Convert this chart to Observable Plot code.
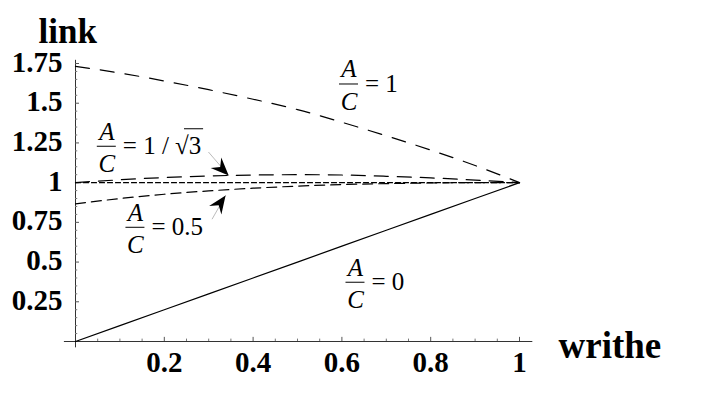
<!DOCTYPE html>
<html><head><meta charset="utf-8">
<script src="https://cdn.jsdelivr.net/npm/d3@7"></script>
<script src="https://cdn.jsdelivr.net/npm/@observablehq/plot@0.6"></script>
<style>body{margin:0;background:#fff}</style>
</head><body><div id="chart"></div>
<script>
// ---- data ----
const writhe        = [0, 0.1, 0.2, 0.3, 0.4, 0.5, 0.6, 0.7, 0.8, 0.9, 1];
const linkAC1       = [1.732, 1.69, 1.64, 1.585, 1.525, 1.46, 1.38, 1.295, 1.205, 1.108, 1.0];
const linkACinvRt3  = [1.0, 1.018, 1.032, 1.042, 1.048, 1.05, 1.048, 1.04, 1.03, 1.016, 1.0];
const linkAC05      = [0.866, 0.9, 0.927, 0.948, 0.965, 0.978, 0.988, 0.994, 0.998, 1.0, 1.0];
const linkAC0       = [0, 0.1, 0.2, 0.3, 0.4, 0.5, 0.6, 0.7, 0.8, 0.9, 1.0];
const linkRef       = [1, 1, 1, 1, 1, 1, 1, 1, 1, 1, 1];

const xMajor     = [0.2, 0.4, 0.6, 0.8, 1];
const xMajorText = ["0.2", "0.4", "0.6", "0.8", "1"];
const xMinor     = [0.05,0.1,0.15,0.25,0.3,0.35,0.45,0.5,0.55,0.65,0.7,0.75,0.85,0.9,0.95];
const yMajor     = [0.25, 0.5, 0.75, 1, 1.25, 1.5, 1.75];
const yMajorText = ["0.25", "0.5", "0.75", "1", "1.25", "1.5", "1.75"];
const yMinor     = [0.05,0.1,0.15,0.2,0.3,0.35,0.4,0.45,0.55,0.6,0.65,0.7,0.8,0.85,0.9,0.95,
                    1.05,1.1,1.15,1.2,1.3,1.35,1.4,1.45,1.55,1.6,1.65,1.7];

// curve labels (anchor = centre of the fraction bar, in data units)
const labelX   = [0.616, 0.0705, 0.135, 0.6306];
const labelY   = [1.621, 1.229, 0.719, 0.373];
const labelRhs = ["= 1", "= 1 / \u221A3", "= 0.5", "= 0"];

// arrows (data units) and their head angles
const arrowX1 = [0.300, 0.308];
const arrowY1 = [1.191, 0.772];
const arrowX2 = [0.345, 0.338];
const arrowY2 = [1.045, 0.919];
const arrowAngle = [45, -55];

// ---- build tables ----
const series = ys => writhe.map((w, i) => ({w, l: ys[i]}));
const labels = labelX.map((x, i) => ({x, y: labelY[i], rhs: labelRhs[i]}));
const arrows = arrowX1.map((x1, i) => ({x1, y1: arrowY1[i], x2: arrowX2[i], y2: arrowY2[i], a: arrowAngle[i]}));

const serif = "'Liberation Serif','Times New Roman',Times,serif";
const head = {draw(ctx) { ctx.moveTo(0,0); ctx.lineTo(-18,-7.5); ctx.lineTo(-12,0); ctx.lineTo(-18,7.5); ctx.closePath(); }};

const chart = Plot.plot({
  width: 706, height: 415,
  marginLeft: 75, marginRight: 187, marginTop: 63, marginBottom: 74,
  x: {domain: [0, 1], axis: null},
  y: {domain: [0, 1.75], axis: null},
  style: {fontFamily: serif, background: "white", color: "black"},
  marks: [
    // axes
    Plot.ruleY([0], {x1: -0.025, x2: 1.03, stroke: "#333", strokeWidth: 1}),
    Plot.ruleX([0], {y1: -0.04, y2: 1.77, stroke: "#333", strokeWidth: 1}),
    Plot.ruleX(xMajor, {x: d => d, y1: 0, y2: 0.026, stroke: "#555"}),
    Plot.ruleX(xMinor, {x: d => d, y1: 0, y2: 0.015, stroke: "#777"}),
    Plot.ruleY(yMajor, {y: d => d, x1: 0, x2: 0.009, stroke: "#555"}),
    Plot.ruleY(yMinor, {y: d => d, x1: 0, x2: 0.005, stroke: "#777"}),
    Plot.text(xMajor, {x: d => d, y: 0, text: (d, i) => xMajorText[i], dy: 30, lineAnchor: "bottom",
      textAnchor: "middle", fontSize: 29, fontWeight: "bold"}),
    Plot.text(yMajor, {x: 0, y: d => d, text: (d, i) => yMajorText[i], dx: -13, dy: 8, lineAnchor: "bottom",
      textAnchor: "end", fontSize: 29, fontWeight: "bold"}),
    Plot.text([{x: 0, y: 1.75, t: "link"}], {x: "x", y: "y", text: "t", dx: -37, dy: -21, lineAnchor: "bottom",
      textAnchor: "start", fontSize: 35, fontWeight: "bold"}),
    Plot.text([{x: 1, y: 0, t: "writhe"}], {x: "x", y: "y", text: "t", dx: 39, dy: 16, lineAnchor: "bottom",
      textAnchor: "start", fontSize: 37, fontWeight: "bold"}),
    // curves
    Plot.line(series(linkAC0), {x: "w", y: "l", stroke: "black", strokeWidth: 1.2}),
    Plot.line(series(linkRef), {x: "w", y: "l", stroke: "black", strokeWidth: 1.2, strokeDasharray: "5,3"}),
    Plot.line(series(linkAC05), {x: "w", y: "l", curve: "natural", stroke: "black", strokeWidth: 1.2, strokeDasharray: "10,6"}),
    Plot.line(series(linkACinvRt3), {x: "w", y: "l", curve: "natural", stroke: "black", strokeWidth: 1.2, strokeDasharray: "14,9"}),
    Plot.line(series(linkAC1), {x: "w", y: "l", curve: "natural", stroke: "black", strokeWidth: 1.2, strokeDasharray: "14,11"}),
    // labels
    Plot.text(labels, {x: "x", y: "y", text: () => "A", fontStyle: "italic", fontSize: 25, dy: -6.6,
      lineAnchor: "bottom", textAnchor: "middle"}),
    Plot.text(labels, {x: "x", y: "y", text: () => "C", fontStyle: "italic", fontSize: 25, dy: 26,
      lineAnchor: "bottom", textAnchor: "middle"}),
    Plot.ruleY(labels, {y: "y", x1: d => d.x - 0.0214, x2: d => d.x + 0.0214, stroke: "black", strokeWidth: 1}),
    Plot.text(labels, {x: "x", y: "y", text: "rhs", fontSize: 25, dx: 16, dy: 8,
      lineAnchor: "bottom", textAnchor: "start"}),
    Plot.ruleY([labels[1]], {y: "y", x1: d => d.x + 0.175, x2: d => d.x + 0.218, dy: -17.5, stroke: "black", strokeWidth: 1}),
    // arrows
    Plot.arrow(arrows, {x1: "x1", y1: "y1", x2: "x2", y2: "y2", stroke: "#aaa", strokeWidth: 0.8, headLength: 0}),
    Plot.dot(arrows, {x: "x2", y: "y2", symbol: head, rotate: "a", fill: "black", stroke: "none", r: 6})
  ]
});
document.getElementById("chart").appendChild(chart);
</script>
</body></html>
